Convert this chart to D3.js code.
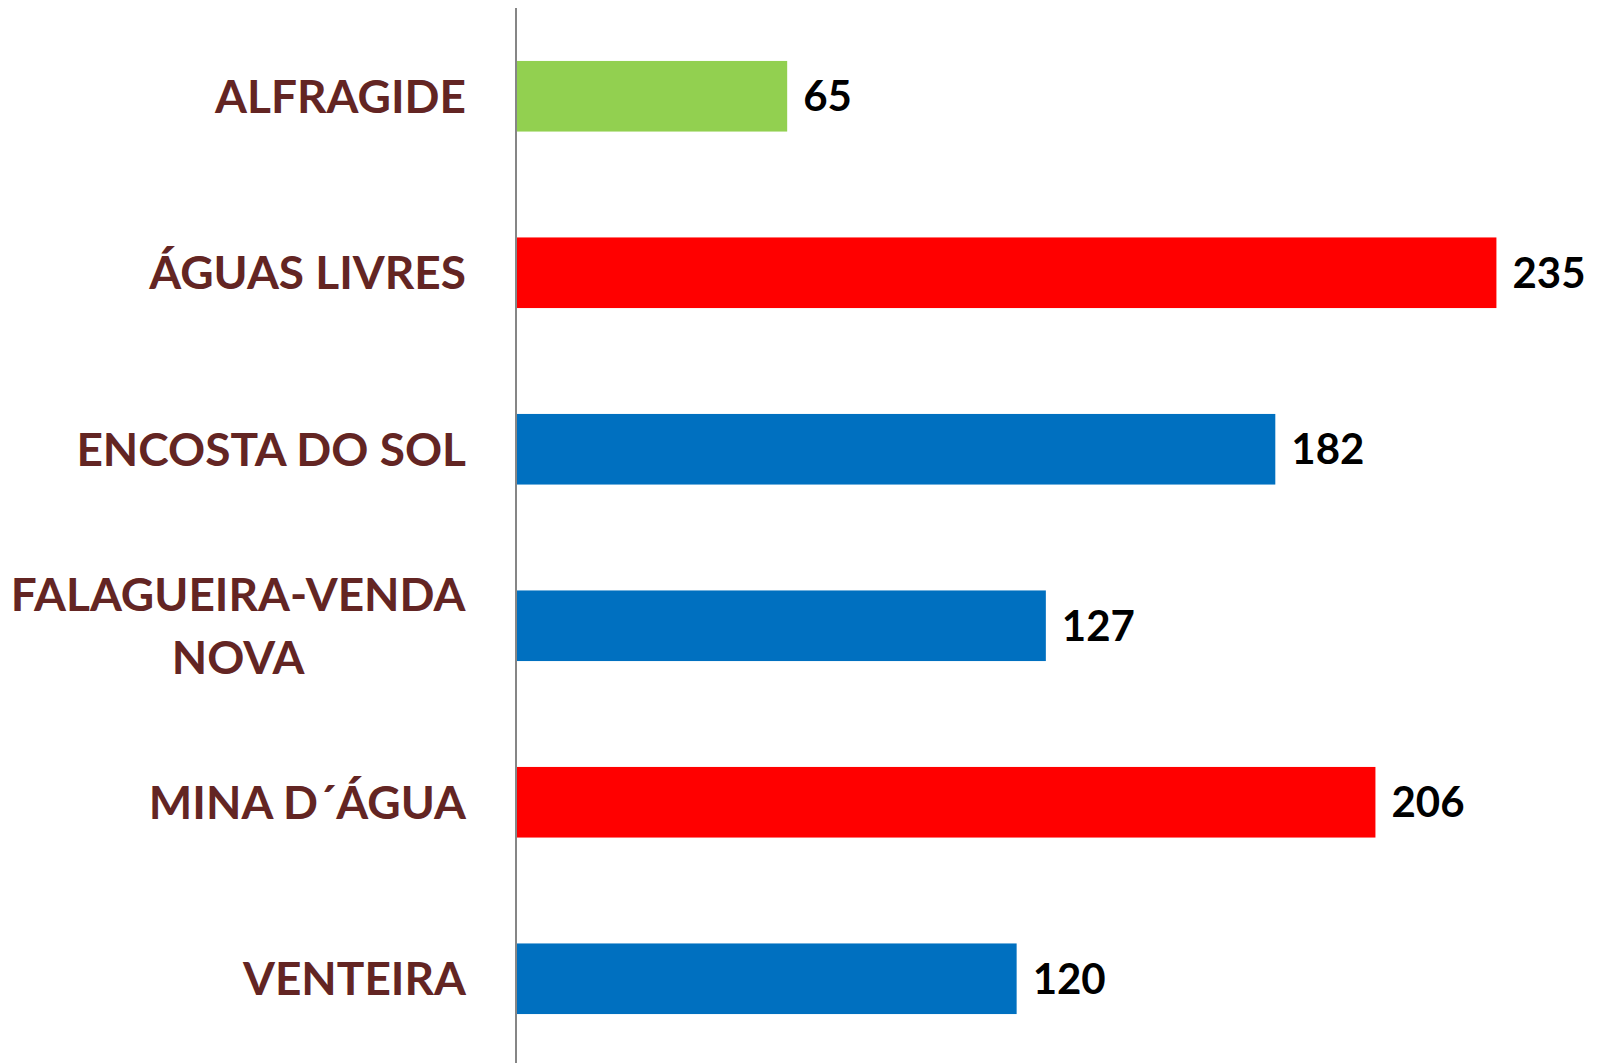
<!DOCTYPE html>
<html>
<head>
<meta charset="utf-8">
<script src="https://cdn.jsdelivr.net/npm/d3@7"></script>
<style>
  body { margin: 0; background: #fff; }
  svg text { font-family: Lato, "Open Sans", sans-serif; font-weight: bold; }
</style>
</head>
<body>
<div id="chart"></div>
<script>
const categories = ["ALFRAGIDE", "ÁGUAS LIVRES", "ENCOSTA DO SOL", "FALAGUEIRA-VENDA NOVA", "MINA D´ÁGUA", "VENTEIRA"];
const labelLines = [["ALFRAGIDE"], ["ÁGUAS LIVRES"], ["ENCOSTA DO SOL"], ["FALAGUEIRA-VENDA", "NOVA"], ["MINA D´ÁGUA"], ["VENTEIRA"]];
const values = [65, 235, 182, 127, 206, 120];
const barColors = ["#92d050", "#ff0000", "#0070c0", "#0070c0", "#ff0000", "#0070c0"];

const width = 1597;
const height = 1063;
const margin = {top: 8, right: 38, bottom: -4, left: 516};

const svg = d3.select("#chart")
    .append("svg")
    .attr("width", width)
    .attr("height", height);

const x = d3.scaleLinear().domain([0, 250]).range([margin.left, width - margin.right]);
const y = d3.scaleBand()
    .domain(categories)
    .range([margin.top, height - margin.bottom])
    .paddingInner(0.6)
    .paddingOuter(0.3);

// bars
svg.append("g")
    .selectAll("rect")
    .data(values)
    .join("rect")
    .attr("x", x(0))
    .attr("y", (d, i) => y(categories[i]))
    .attr("width", d => x(d) - x(0))
    .attr("height", y.bandwidth())
    .attr("fill", (d, i) => barColors[i]);

// value labels
svg.append("g")
    .selectAll("text")
    .data(values)
    .join("text")
    .attr("x", d => x(d) + 16)
    .attr("y", (d, i) => y(categories[i]) + y.bandwidth() / 2)
    .attr("dy", "0.36em")
    .attr("font-size", 42)
    .attr("fill", "#000")
    .text(d => d);

// category axis
const yAxis = d3.axisLeft(y).tickSize(0).tickFormat("");
const axisG = svg.append("g")
    .attr("transform", "translate(" + x(0) + ",0)")
    .call(yAxis);
axisG.select(".domain").attr("stroke", "#868686").attr("stroke-width", 2)
    .attr("d", "M0," + margin.top + "V" + height);

// category labels, multi-line ones centred on each other
const labelRight = 466;
categories.forEach((c, i) => {
    const lines = labelLines[i];
    const cy = y(c) + y.bandwidth() / 2;
    const lineH = 63;
    const t = svg.append("text")
        .attr("font-size", 46)
        .attr("fill", "#632523")
        .attr("text-anchor", lines.length > 1 ? "middle" : "end");
    lines.forEach((ln, j) => {
        t.append("tspan")
            .attr("x", labelRight)
            .attr("y", cy + (j - (lines.length - 1) / 2) * lineH)
            .attr("dy", "0.36em")
            .text(ln);
    });
    if (lines.length > 1) {
        const w = t.node().getBBox().width;
        t.selectAll("tspan").attr("x", labelRight - w / 2);
    }
});
</script>
</body>
</html>
